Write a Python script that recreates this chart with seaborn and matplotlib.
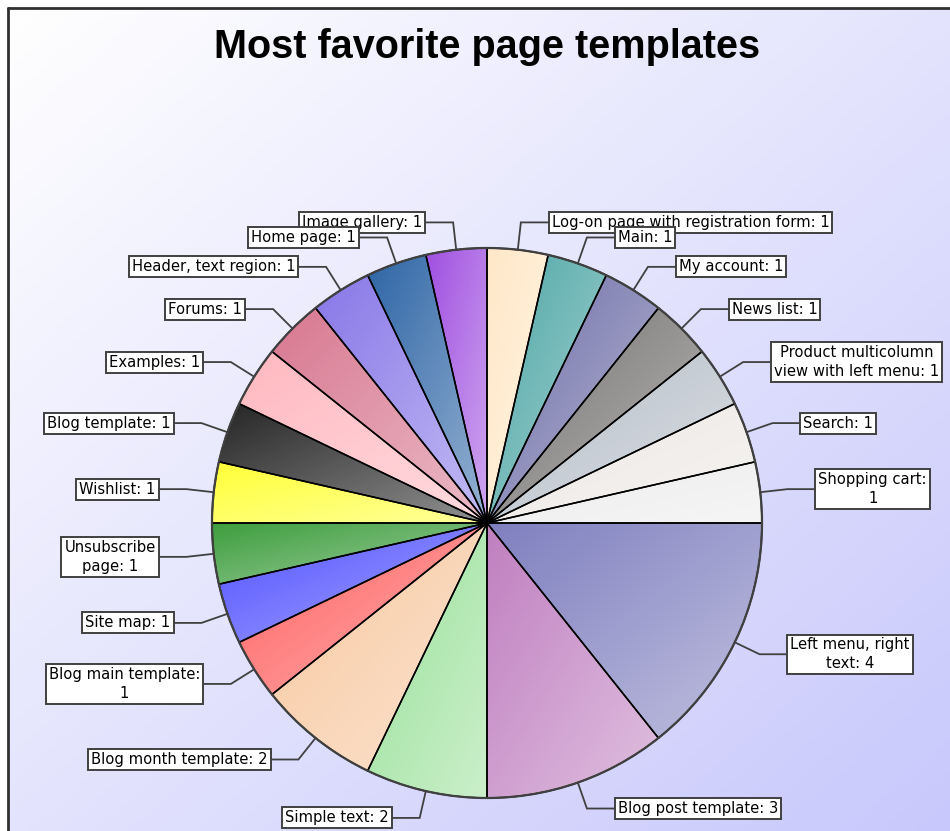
import numpy as np
import matplotlib
matplotlib.use("Agg")
import matplotlib.pyplot as plt
import matplotlib.patches as mpatches
import seaborn as sns

# data: slices clockwise from 12 o'clock
templates = [
    "Log-on page with registration form", "Main", "My account", "News list",
    "Product multicolumn\nview with left menu", "Search", "Shopping cart",
    "Left menu, right\ntext", "Blog post template", "Simple text",
    "Blog month template", "Blog main template", "Site map",
    "Unsubscribe\npage", "Wishlist", "Blog template", "Examples", "Forums",
    "Header, text region", "Home page", "Image gallery",
]
votes = [1, 1, 1, 1, 1, 1, 1, 4, 3, 2, 2, 1, 1, 1, 1, 1, 1, 1, 1, 1, 1]
wrap_value = {"Shopping cart", "Blog main template"}

slice_colors = [
    "#ffe8c8", "#4ea6a6", "#6e6ea8", "#747070", "#b6bec8", "#ece8e4", "#ececec",
    "#8080c0", "#c080c0", "#98e098", "#f8c8a0", "#ff6060", "#5050ff",
    "#3e9e3e", "#ffff38", "#262626", "#ffb8c0", "#d87890", "#8878e8",
    "#2f66a6", "#a050e0",
]

W, H = 950, 831
CX, CY, R = 487, 523, 275  # pie centre / radius in pixels

sns.set_theme(style="white")
plt.rcParams["font.family"] = ["DejaVu Sans"]

fig = plt.figure(figsize=(W / 100, H / 100), dpi=100)
fig.patch.set_facecolor("white")

# background gradient inside the frame
bg = fig.add_axes([8 / W, 0, 1 - 8 / W, 1 - 8 / H])
bg.set_axis_off()
gx, gy = np.meshgrid(np.linspace(0, 1, 300), np.linspace(0, 1, 300))
t = (gx + gy) / 2
end = np.array([200, 200, 252]) / 255
img = (1 - t)[..., None] * np.ones(3) + t[..., None] * end
bg.imshow(img, aspect="auto", extent=[0, 1, 1, 0])
bg.set_xlim(0, 1)
bg.set_ylim(1, 0)
fig.add_artist(plt.Line2D([8 / W, 1], [1 - 8 / H, 1 - 8 / H], color="#303030", lw=2))
fig.add_artist(plt.Line2D([8 / W, 8 / W], [0, 1 - 8 / H], color="#303030", lw=2))

fig.text(CX / W, 1 - 47 / H, "Most favorite page templates", ha="center", va="center",
         fontsize=28.5, fontweight="bold", family="Liberation Sans", color="black")

# pie axes: one data unit == R pixels
ax = fig.add_axes([0, 0, 1, 1])
ax.patch.set_alpha(0)
wedges, _ = ax.pie(votes, colors=slice_colors, startangle=90, counterclock=False,
                   radius=1, wedgeprops=dict(edgecolor="none", linewidth=0))

# per-slice diagonal lightening
n = 64
gi, gj = np.meshgrid(np.arange(n), np.arange(n), indexing="ij")
shade = np.zeros((n, n, 4))
shade[..., :3] = 1.0
shade[..., 3] = 0.5 * (gi + gj) / (2 * (n - 1))
for w in wedges:
    ang = np.radians(np.linspace(w.theta1, w.theta2, 50))
    xs = np.r_[0, np.cos(ang)]
    ys = np.r_[0, np.sin(ang)]
    ax.imshow(shade, extent=[xs.min(), xs.max(), ys.min(), ys.max()],
              clip_path=w, zorder=1.5, interpolation="bilinear")

edges, _ = ax.pie(votes, startangle=90, counterclock=False, radius=1,
                  wedgeprops=dict(facecolor="none", edgecolor="black", linewidth=1.1))
for e in edges:
    e.set_zorder(3)
ax.add_patch(mpatches.Circle((0, 0), 1, fill=False, edgecolor="#404040", lw=1.6, zorder=5))

ax.set_aspect("equal")
ax.set_xlim(-CX / R, (W - CX) / R)
ax.set_ylim(-(H - CY) / R, CY / R)
ax.set_axis_off()

for i, (w, name, v) in enumerate(zip(wedges, templates, votes)):
    mid = np.radians((w.theta1 + w.theta2) / 2)
    c, s = np.cos(mid), np.sin(mid)
    side = 1 if c > 0 else -1
    kx, ky = 1.1 * c, 1.1 * s
    lx = kx + side * 0.1
    ax.plot([c, kx, lx], [s, ky, ky], color="#404040", lw=1.3, zorder=6,
            solid_joinstyle="miter")
    sep = ":\n" if name in wrap_value else ": "
    label = f"{name}{sep}{v}"
    z = 10 + i if side > 0 else 60 - i
    ax.text(lx + side * 0.012, ky, label, ha="left" if side > 0 else "right", va="center",
            multialignment="center", fontsize=10.6, color="black", zorder=z, linespacing=1.3,
            bbox=dict(boxstyle="square,pad=0.2", facecolor="white", edgecolor="#404040", lw=1.4))

fig.savefig("out.png", dpi=100)
